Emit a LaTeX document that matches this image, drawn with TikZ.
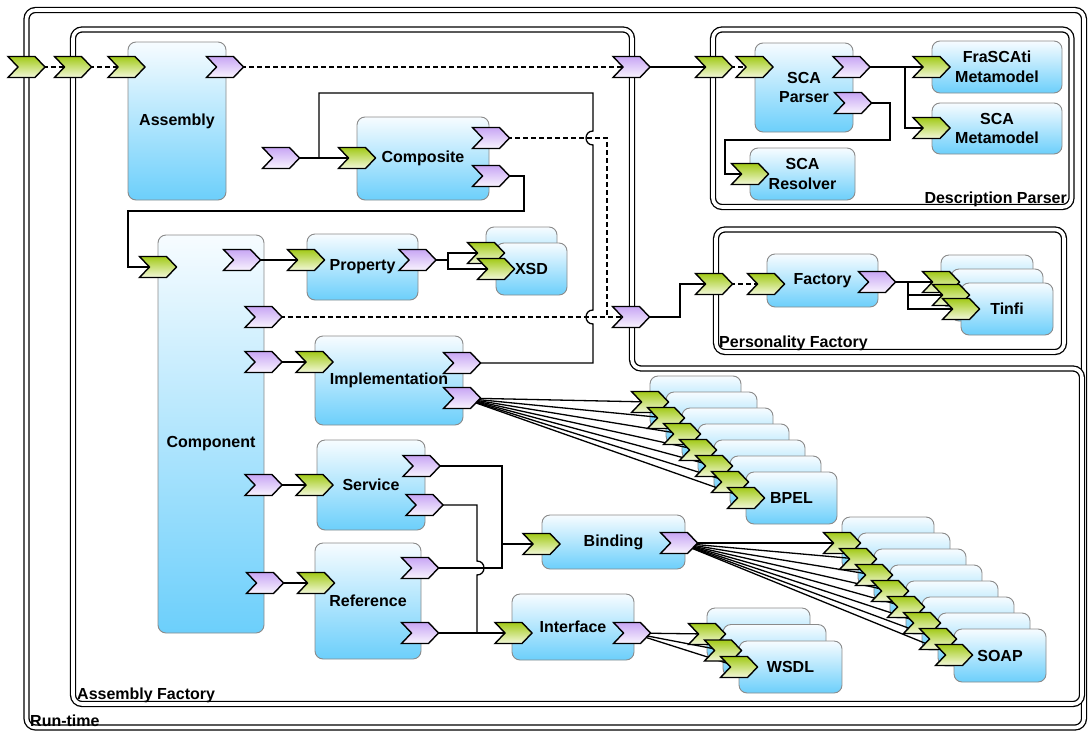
\documentclass[tikz,border=0pt]{standalone}
\usepackage{fontspec}
\setmainfont{Liberation Sans}
\pgfdeclarelayer{bg}
\pgfdeclarelayer{fg}
\pgfsetlayers{bg,main,fg}

\definecolor{boxtop}{HTML}{F7FCFF}
\definecolor{boxbot}{HTML}{6CCFFB}
\definecolor{boxedge}{HTML}{8A8A8A}
\definecolor{greentop}{HTML}{A2CA18}
\definecolor{greenbot}{HTML}{F3F8DA}
\definecolor{purpletop}{HTML}{C8A6F4}
\definecolor{purplebot}{HTML}{F9F4FE}

\newcommand\boxfont{\fontsize{16}{19.5}\selectfont\bfseries}

\tikzset{
  frame/.style={draw=black, line width=1.3, double=white, double distance=3.6, rounded corners=9},
  box/.style={draw=boxedge, line width=0.9, rounded corners=8, top color=boxtop, bottom color=boxbot,
    inner sep=0, outer sep=0, anchor=north west, font=\boxfont, align=center},
  portnode/.style={inner sep=0, outer sep=0, minimum width=37, minimum height=21},
  inport/.style={draw=black, line width=1.4, line join=miter, top color=greentop, bottom color=greenbot},
  outport/.style={draw=black, line width=1.4, line join=miter, top color=purpletop, bottom color=purplebot},
  wire/.style={line width=1.3},
  dwire/.style={wire, dash pattern=on 5 off 3},
  framelabel/.style={font=\boxfont, inner sep=0}
}

% component box: name, left, top, width, height, text
\newcommand\cbox[6]{%
  \node[box, minimum width=#4, minimum height=#5] (#1) at (#2,#3) {#6};}

% chevron port: name, centre x, centre y, style
\newcommand\port[4]{%
  \node[portnode] (#1) at (#2,#3) {};
  \begin{pgfonlayer}{fg}
    \draw[#4] ({#2-18.5},{#3-10.5}) -- ++(27,0) -- ++(10,10.5) -- ++(-10,10.5)
      -- ++(-27,0) -- ++(10,-10.5) -- cycle;
  \end{pgfonlayer}}

\begin{document}
\begin{tikzpicture}[x=1pt,y=-1pt]
\useasboundingbox (0,0) rectangle (1089,731);

% ---------- containers and components ----------
\begin{pgfonlayer}{bg}
  \draw[frame] (26.5,10) rectangle (1084,727.5);
  \draw[frame] (73,29.5) -- (632,29.5) -- (632,368.5) -- (1082,368.5) -- (1082,704) -- (73,704) -- cycle;
  \draw[frame] (713,29.5) rectangle (1071.5,207);
  \draw[frame] (716,229.5) rectangle (1064,352);

  \cbox{assembly}{128}{42}{98}{158}{Assembly}
  \cbox{composite}{357}{117}{132}{83}{Composite}
  \cbox{component}{158}{235}{106}{398}{}
  \cbox{property}{307}{234}{111}{66}{Property}
  \cbox{xsd0}{486}{227}{71}{52}{}
  \cbox{xsd1}{496}{243}{71}{52}{XSD}
  \cbox{impl}{315}{336}{148}{89}{Implementation}
  \cbox{service}{317}{440}{108}{90}{Service}
  \cbox{reference}{315}{543}{106}{116}{Reference}
  \cbox{binding}{542}{515}{143}{54}{Binding}
  \cbox{interface}{512}{594}{122}{66}{Interface}
  \foreach \i in {0,...,5} {\cbox{bpel\i}{650+16*\i}{376+16*\i}{91}{52}{}}
  \cbox{bpel6}{746}{472}{91}{52}{BPEL}
  \foreach \i in {0,...,6} {\cbox{soap\i}{842+16*\i}{517+16*\i}{92}{53}{}}
  \cbox{soap7}{954}{629}{92}{53}{SOAP}
  \foreach \i in {0,...,1} {\cbox{wsdl\i}{707+16*\i}{608+16.5*\i}{103}{52}{}}
  \cbox{wsdl2}{739}{641}{103}{52}{WSDL}
  \cbox{parser}{755}{43}{98}{89}{SCA\\Parser}
  \cbox{frascati}{932}{41}{130}{52}{FraSCAti\\Metamodel}
  \cbox{scamm}{932}{103}{130}{51}{SCA\\Metamodel}
  \cbox{resolver}{750}{148}{105}{52}{SCA\\Resolver}
  \cbox{factory}{767}{254}{111}{53}{Factory}
  \foreach \i in {0,...,1} {\cbox{tinfi\i}{941+10*\i}{255+14*\i}{92}{52}{}}
  \cbox{tinfi2}{961}{283}{92}{52}{Tinfi}
\end{pgfonlayer}
\node[font=\boxfont, inner sep=0] (componentlabel) at (211,444) {Component};

% ---------- ports ----------
\port{rtin}{26.5}{67}{inport}
\port{afin}{73}{67}{inport}
\port{asmin}{126.5}{67}{inport}
\port{asmout}{225}{67}{outport}
\port{afout1}{631.5}{67}{outport}
\port{afout2}{631}{317}{outport}

\port{cmppromo}{281}{158}{outport}
\port{cmpin}{357}{158}{inport}
\port{cmpout1}{491}{138}{outport}
\port{cmpout2}{491}{176}{outport}

\port{compin}{158}{267}{inport}
\port{compout1}{242}{260}{outport}
\port{compout2}{263.5}{317}{outport}
\port{compout3}{263.5}{362}{outport}
\port{compout4}{263.5}{485}{outport}
\port{compout5}{265}{583}{outport}

\port{propin}{306}{260}{inport}
\port{propout}{417.5}{260}{outport}
\port{xsdin0}{486}{253}{inport}
\port{xsdin1}{496}{269}{inport}

\port{implin}{314.5}{362}{inport}
\port{implout1}{462}{363}{outport}
\port{implout2}{462}{398}{outport}
\foreach \i in {0,...,6} {\port{bpelin\i}{650+16*\i}{402+16*\i}{inport}}

\port{svin}{314.5}{485}{inport}
\port{svout1}{421.5}{466}{outport}
\port{svout2}{424.5}{505}{outport}
\port{refin}{316}{583}{inport}
\port{refout1}{420}{568}{outport}
\port{refout2}{420}{633}{outport}

\port{bindin}{541.5}{544}{inport}
\port{bindout}{679}{543}{outport}
\foreach \i in {0,...,7} {\port{soapin\i}{842+16*\i}{543+16*\i}{inport}}

\port{itfin}{513.5}{633}{inport}
\port{itfout}{632}{633}{outport}
\foreach \i in {0,...,2} {\port{wsdlin\i}{707+16*\i}{634+16.5*\i}{inport}}

\port{dpin}{714}{67}{inport}
\port{parsin}{754.5}{67}{inport}
\port{parsout1}{851.5}{67}{outport}
\port{parsout2}{853}{103}{outport}
\port{frain}{931.5}{67}{inport}
\port{scamin}{931.5}{128}{inport}
\port{resin}{750}{174}{inport}

\port{pfin}{714}{284}{inport}
\port{facin}{766}{284}{inport}
\port{facout}{877}{282}{outport}
\port{tinfin0}{941}{282}{inport}
\port{tinfin1}{951}{295}{inport}
\port{tinfin2}{961}{309}{inport}

% ---------- wiring ----------
\coordinate (cbranch) at (319,158);
\coordinate (bindjoin) at (502,544);
\coordinate (mmjoin) at (905,67);
\coordinate (tinfijoin) at (908,295);

\draw[dwire] (rtin.center) -- (afin.center);
\draw[dwire] (afin.center) -- (asmin.center);
\draw[dwire] (asmout.center) -- (afout1.center);
\draw[wire] (afout1.center) -- (dpin.center);
\draw[dwire] (dpin.center) -- (parsin.center);

\draw[wire] (parsout1.center) -- (frain.center);
\draw[wire] (mmjoin) |- (scamin.center);
\draw[wire] (parsout2.center) -- (890,103) -- (890,140) -- (725,140) |- (resin.center);

\draw[wire] (cmppromo.center) -- (cmpin.center);
\draw[wire] (cbranch) -- (319,93) -- (593,93) -- (593,131)
  .. controls (583.7,131) and (583.7,145) .. (593,145) -- (593,310)
  .. controls (583.7,310) and (583.7,324) .. (593,324) -- (593,363) -- (implout1.center);
\draw[dwire] (cmpout1.center) -- (607,138) -- (607,317) -- (afout2.center);
\draw[wire] (cmpout2.center) -- (524,176) -- (524,211) -- (128,211) |- (compin.center);

\draw[wire] (compout1.center) -- (propin.center);
\draw[dwire] (compout2.center) -- (afout2.center);
\draw[wire] (compout3.center) -- (implin.center);
\draw[wire] (compout4.center) -- (svin.center);
\draw[wire] (compout5.center) -- (refin.center);

\draw[wire] (propout.center) -- (448,260);
\draw[wire] (xsdin0.center) -| (448,269) -- (xsdin1.center);

\foreach \i in {0,...,6} {\draw[wire] (implout2.center) -- (bpelin\i.center);}

\draw[wire] (svout1.center) -| (502,568) -- (refout1.center);
\draw[wire] (bindjoin) -- (bindin.center);
\draw[wire] (svout2.center) -- (477,505) -- (477,561)
  .. controls (486.3,561) and (486.3,575) .. (477,575) -- (477,633) -- (itfin.center);
\draw[wire] (refout2.center) -- (itfin.center);

\foreach \i in {0,...,7} {\draw[wire] (bindout.center) -- (soapin\i.center);}
\foreach \i in {0,...,2} {\draw[wire] (itfout.center) -- (wsdlin\i.center);}

\draw[wire] (afout2.center) -- (680,317) -- (680,284) -- (pfin.center);
\draw[dwire] (pfin.center) -- (facin.center);
\draw[wire] (facout.center) -- (tinfin0.center);
\draw[wire] (908,282) |- (tinfin2.center);
\draw[wire] (tinfijoin) -- (tinfin1.center);

% ---------- container labels ----------
\node[framelabel, anchor=base west] (rtlabel) at (30,726) {Run-time};
\node[framelabel, anchor=base west] (aflabel) at (77,699) {Assembly Factory};
\node[framelabel, anchor=base west] (pflabel) at (719,347) {Personality Factory};
\node[framelabel, anchor=base east] (dplabel) at (1067,203) {Description Parser};
\end{tikzpicture}
\end{document}
